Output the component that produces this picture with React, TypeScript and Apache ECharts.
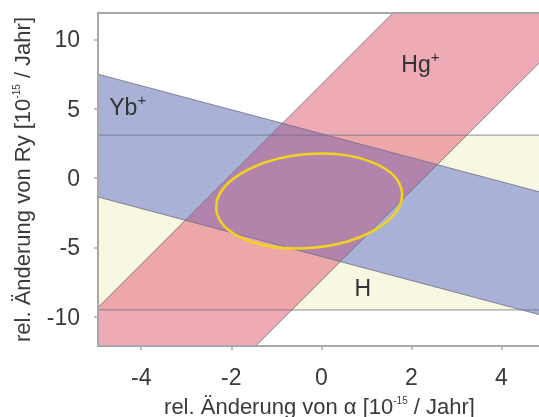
import React, { useEffect, useRef } from "react";
import * as echarts from "echarts";

// Axis extent and ticks
const xRange = [-4.96, 4.88];
const yRange = [-12.1, 11.9];
const xTicks = [-4, -2, 0, 2, 4];
const yTicks = [-10, -5, 0, 5, 10];

// Bands: y between lower + slope*x and upper + slope*x
const bandNames = ["H", "Yb+", "Hg+"];
const bandSlopes = [0, -0.865, 3.24];
const bandLower = [-9.5, -5.65, -7.38];
const bandUpper = [3.1, 3.2, 6.75];

// Coloured regions: intersection of listed bands
const regionBands = [[0], [2], [2, 0], [1], [1, 2]];
const regionColors = ["#f8f7e2", "#eeaab5", "#eda7a8", "#aab1d7", "#b384ab"];

// Band labels [x, y]
const labelText = ["H", "Yb{sup|+}", "Hg{sup|+}"];
const labelPos = [
  [0.92, -7.9],
  [-4.3, 5.15],
  [2.2, 8.2],
];

// Combined confidence ellipse: [cx, cy, rx, ry]
const ellipse = [[-0.27, -1.65, 2.07, 3.38]];

type Pt = [number, number];

function clipHalf(poly: Pt[], a: number, b: number, c: number): Pt[] {
  const out: Pt[] = [];
  const n = poly.length;
  for (let i = 0; i < n; i++) {
    const P = poly[i];
    const Q = poly[(i + 1) % n];
    const fp = a * P[0] + b * P[1] + c;
    const fq = a * Q[0] + b * Q[1] + c;
    if (fp >= 0) out.push(P);
    if (fp >= 0 !== fq >= 0) {
      const t = fp / (fp - fq);
      out.push([P[0] + t * (Q[0] - P[0]), P[1] + t * (Q[1] - P[1])]);
    }
  }
  return out;
}

function bandPolygon(bands: number[]): Pt[] {
  let poly: Pt[] = [
    [xRange[0], yRange[0]],
    [xRange[1], yRange[0]],
    [xRange[1], yRange[1]],
    [xRange[0], yRange[1]],
  ];
  for (const k of bands) {
    const s = bandSlopes[k];
    poly = clipHalf(poly, -s, 1, -bandLower[k]);
    poly = clipHalf(poly, s, -1, bandUpper[k]);
  }
  return poly;
}

function lineSegment(s: number, i: number): Pt[] | null {
  let lo = xRange[0];
  let hi = xRange[1];
  if (s !== 0) {
    const xa = (yRange[0] - i) / s;
    const xb = (yRange[1] - i) / s;
    lo = Math.max(lo, Math.min(xa, xb));
    hi = Math.min(hi, Math.max(xa, xb));
  }
  if (lo >= hi) return null;
  return [
    [lo, i + s * lo],
    [hi, i + s * hi],
  ];
}

const font = "'Liberation Sans', Arial, sans-serif";
const txt = "#3a3a3a";
const frame = "#a8a8a8";

export default function App() {
  const ref = useRef<HTMLDivElement>(null);
  useEffect(() => {
    if (!ref.current) return;
    const chart = echarts.init(ref.current, null, { renderer: "svg" });
    const boundaryLines: { s: number; i: number }[] = [];
    bandNames.forEach((_, k) => {
      boundaryLines.push({ s: bandSlopes[k], i: bandLower[k] });
      boundaryLines.push({ s: bandSlopes[k], i: bandUpper[k] });
    });

    const nameStyle = {
      fontSize: 22,
      color: txt,
      fontFamily: font,
      rich: {
        sup: { fontSize: 10, color: txt, fontFamily: font, padding: [0, 0, 11, 0] },
      },
    };

    chart.setOption({
      animation: false,
      textStyle: { fontFamily: font },
      grid: {
        left: 98,
        right: -2,
        top: 13,
        bottom: 71,
        containLabel: false,
        outerBoundsMode: "none",
      },
      xAxis: [
        {
          type: "value",
          min: xRange[0],
          max: xRange[1],
          z: 10,
          name: "rel. Änderung von α [10{sup|-15} / Jahr]",
          nameLocation: "middle",
          nameGap: 49,
          nameTextStyle: nameStyle,
          axisLine: { show: true, onZero: false, lineStyle: { color: frame, width: 2 } },
          axisTick: {
            show: true,
            length: 4,
            customValues: xTicks,
            lineStyle: { color: frame, width: 1.5 },
          },
          axisLabel: {
            customValues: xTicks,
            margin: 19,
            fontSize: 23,
            color: txt,
            fontFamily: font,
          },
          splitLine: { show: false },
        },
        {
          type: "value",
          position: "top",
          min: xRange[0],
          max: xRange[1],
          z: 10,
          axisLine: { show: true, onZero: false, lineStyle: { color: frame, width: 2 } },
          axisTick: { show: false },
          axisLabel: { show: false },
          splitLine: { show: false },
        },
      ],
      yAxis: {
        type: "value",
        min: yRange[0],
        max: yRange[1],
        z: 10,
        name: "rel. Änderung von Ry [10{sup|-15} / Jahr]",
        nameLocation: "middle",
        nameGap: 65,
        nameTextStyle: nameStyle,
        axisLine: { show: true, onZero: false, lineStyle: { color: frame, width: 2 } },
        axisTick: {
          show: true,
          length: 4,
          customValues: yTicks,
          lineStyle: { color: frame, width: 1.5 },
        },
        axisLabel: {
          customValues: yTicks,
          margin: 18,
          fontSize: 23,
          color: txt,
          fontFamily: font,
        },
        splitLine: { show: false },
      },
      series: [
        {
          type: "custom",
          name: "regions",
          silent: true,
          clip: true,
          data: regionBands.map((_, idx) => [idx]),
          renderItem: (params: any, api: any) => {
            const poly = bandPolygon(regionBands[params.dataIndex]);
            if (poly.length < 3) return null;
            return {
              type: "polygon",
              shape: { points: poly.map((p) => api.coord(p)) },
              style: { fill: regionColors[params.dataIndex], stroke: "none" },
            };
          },
        },
        {
          type: "custom",
          name: "boundaries",
          silent: true,
          clip: true,
          z: 3,
          data: boundaryLines.map((_, idx) => [idx]),
          renderItem: (params: any, api: any) => {
            const b = boundaryLines[params.dataIndex];
            const seg = lineSegment(b.s, b.i);
            if (!seg) return null;
            const p0 = api.coord(seg[0]);
            const p1 = api.coord(seg[1]);
            return {
              type: "line",
              shape: { x1: p0[0], y1: p0[1], x2: p1[0], y2: p1[1] },
              style: { stroke: "#6e6e82", lineWidth: 1, opacity: 0.8 },
            };
          },
        },
        {
          type: "custom",
          name: "ellipse",
          silent: true,
          z: 4,
          data: ellipse,
          renderItem: (params: any, api: any) => {
            const c = api.coord([api.value(0), api.value(1)]);
            const sz = api.size([api.value(2), api.value(3)]);
            return {
              type: "ellipse",
              x: c[0],
              y: c[1],
              rotation: 0.09,
              shape: { cx: 0, cy: 0, rx: sz[0], ry: sz[1] },
              style: { fill: "none", stroke: "#f0d41c", lineWidth: 2.5 },
            };
          },
        },
        {
          type: "custom",
          name: "labels",
          silent: true,
          z: 5,
          data: labelPos,
          renderItem: (params: any, api: any) => {
            const c = api.coord([api.value(0), api.value(1)]);
            return {
              type: "text",
              x: c[0],
              y: c[1],
              style: {
                text: labelText[params.dataIndex],
                fontSize: 23,
                fontFamily: font,
                fill: "#333",
                align: "center",
                verticalAlign: "middle",
                rich: {
                  sup: {
                    fontSize: 15,
                    fill: "#333",
                    fontFamily: font,
                    padding: [0, 0, 15, 0],
                  },
                },
              },
            };
          },
        },
      ],
    });
    return () => chart.dispose();
  }, []);
  return (
    <div
      ref={ref}
      style={{ position: "fixed", left: 0, top: 0, width: 539, height: 417 }}
    />
  );
}
